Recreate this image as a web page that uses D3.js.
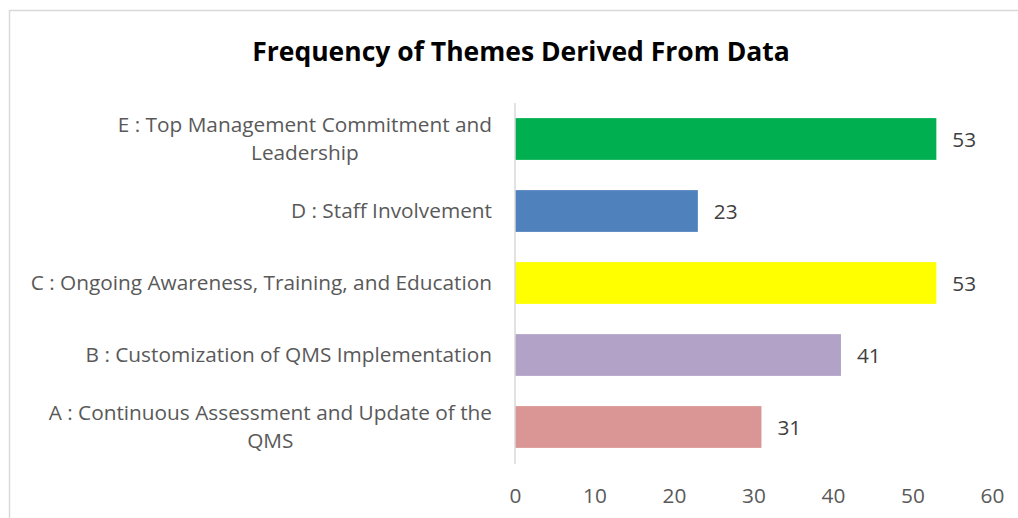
<!DOCTYPE html>
<html>
<head>
<meta charset="utf-8">
<script src="https://cdn.jsdelivr.net/npm/d3@7"></script>
<style>
  body { margin: 0; background: #fff; }
  svg text { font-family: "Open Sans", "Noto Sans", sans-serif; }
</style>
</head>
<body>
<div id="chart"></div>
<script>
// chart data
const categories = [
  'E : Top Management Commitment and\nLeadership',
  'D : Staff Involvement',
  'C : Ongoing Awareness, Training, and Education',
  'B : Customization of QMS Implementation',
  'A : Continuous Assessment and Update of the\nQMS'
];
const values = [53, 23, 53, 41, 31];
const barColors = ['#00B050', '#4F81BD', '#FFFF00', '#B2A2C7', '#D99694'];
const xTicks = [0, 10, 20, 30, 40, 50, 60];
const title = 'Frequency of Themes Derived From Data';

const W = 1018, H = 518;
const fs = 20.8;
const svg = d3.select('#chart').append('svg')
  .attr('width', W).attr('height', H);

// chart frame (runs past the picture on right and bottom)
svg.append('rect')
  .attr('x', 9.5).attr('y', 10.5)
  .attr('width', W + 20).attr('height', H + 20)
  .attr('fill', '#fff').attr('stroke', '#d9d9d9').attr('stroke-width', 1.5);

svg.append('text')
  .attr('x', 521).attr('y', 61)
  .attr('text-anchor', 'middle')
  .attr('font-size', 26.5).attr('font-weight', 'bold')
  .attr('fill', '#000')
  .text(title);

const x = d3.scaleLinear().domain([0, 60]).range([515, 992]);
const y = d3.scaleBand().domain(categories).range([103, 463])
  .paddingInner(0.42).paddingOuter(0.21);

// bars
svg.selectAll('.bar')
  .data(values)
  .enter().append('rect')
  .attr('class', 'bar')
  .attr('x', x(0))
  .attr('y', (d, i) => y(categories[i]))
  .attr('width', d => x(d) - x(0))
  .attr('height', y.bandwidth())
  .attr('fill', (d, i) => barColors[i]);

// vertical axis line
svg.append('line')
  .attr('x1', x(0)).attr('x2', x(0))
  .attr('y1', 103).attr('y2', 464)
  .attr('stroke', '#d9d9d9').attr('stroke-width', 1.5);

// value labels
svg.selectAll('.val')
  .data(values)
  .enter().append('text')
  .attr('class', 'val')
  .attr('x', d => x(d) + 16)
  .attr('y', (d, i) => y(categories[i]) + y.bandwidth() / 2 + 1)
  .attr('dy', '0.35em')
  .attr('font-size', fs)
  .attr('fill', '#404040')
  .text(d => d);

// category labels, right aligned block, lines centered
const labelRight = 492;
categories.forEach(cat => {
  const lines = cat.split('\n');
  const cy = y(cat) + y.bandwidth() / 2;
  const g = svg.append('g');
  const texts = lines.map((ln, k) => g.append('text')
    .attr('y', cy + (k - (lines.length - 1) / 2) * 28)
    .attr('dy', '0.35em')
    .attr('font-size', fs)
    .attr('fill', '#595959')
    .attr('text-anchor', 'middle')
    .text(ln));
  const maxW = d3.max(texts, t => t.node().getComputedTextLength());
  texts.forEach(t => t.attr('x', labelRight - maxW / 2));
});

// x axis ticks
const xAxis = svg.append('g')
  .attr('transform', 'translate(0,496)')
  .call(d3.axisBottom(x).tickValues(xTicks).tickSize(0).tickPadding(0));
xAxis.select('.domain').remove();
xAxis.selectAll('text')
  .attr('font-size', fs)
  .attr('font-family', '"Open Sans", "Noto Sans", sans-serif')
  .attr('fill', '#595959')
  .attr('dy', '0.35em');
</script>
</body>
</html>
